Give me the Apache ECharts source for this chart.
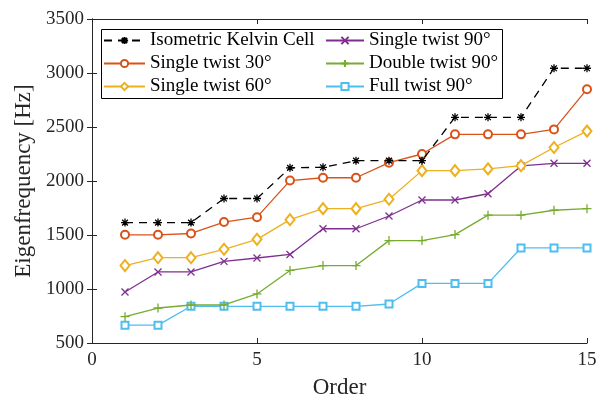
<!DOCTYPE html>
<html><head><meta charset="utf-8">
<script src="https://cdn.jsdelivr.net/npm/echarts@6/dist/echarts.min.js"></script>
<style>html,body{margin:0;padding:0;background:#fff}#c{width:607px;height:398px}</style>
</head><body><div id="c"></div>
<script>
var orders = [1,2,3,4,5,6,7,8,9,10,11,12,13,14,15];
var seriesNames = ['Isometric Kelvin Cell','Single twist 30°','Single twist 60°','Single twist 90°','Double twist 90°','Full twist 90°'];
var isometric = [1615,1615,1615,1838,1838,2122,2127,2188,2188,2188,2590,2590,2590,3044,3044];
var single30 = [1502,1502,1514,1620,1665,2004,2030,2030,2170,2250,2432,2432,2432,2478,2850];
var single60 = [1217,1290,1290,1368,1460,1642,1744,1744,1831,2096,2096,2112,2142,2310,2462];
var single90 = [972,1158,1158,1256,1287,1320,1558,1558,1676,1824,1824,1882,2140,2164,2164];
var double90 = [744,824,852,852,954,1172,1217,1217,1448,1448,1504,1684,1684,1729,1744];
var full90 = [665,665,840,840,840,840,840,840,861,1052,1052,1052,1380,1380,1380];
var yTicks = [500,1000,1500,2000,2500,3000,3500];
var xTicks = [0,5,10,15];

var colors = ['#000000','#D95319','#EDB120','#7E2F8E','#77AC30','#4DBEEE'];
var allData = [isometric,single30,single60,single90,double90,full90];
var symAst = 'path://M0 -5L0 5M-5 0L5 0M-3.6 -3.6L3.6 3.6M-3.6 3.6L3.6 -3.6';
var symX = 'path://M-4 -4L4 4M-4 4L4 -4';
var symPlus = 'path://M0 -5L0 5M-5 0L5 0';
var symbols = [symAst,'emptyCircle','emptyDiamond',symX,symPlus,'emptyRect'];
var symSizes = [8,8,[9,11],7,9,7];
var serif = '"Liberation Serif","DejaVu Serif",serif';

var series = allData.map(function(d,i){
  return {
    name: seriesNames[i], type:'line',
    data: orders.map(function(o,k){return [o,d[k]];}),
    symbol: symbols[i], symbolSize: symSizes[i], showAllSymbol:true,
    lineStyle:{color:colors[i], width:1.3, type: i===0?[8,6]:'solid'},
    itemStyle:{color:colors[i], borderColor:colors[i], borderWidth:1.3},
    emphasis:{disabled:true}, animation:false, z: 10-i
  };
});

var chart = echarts.init(document.getElementById('c'), null, {renderer:'canvas'});
var axisCol = '#262626';
function plain(v){ return String(v); }
var legendText = {fontFamily:serif, fontSize:19, color:'#000'};
chart.setOption({
  animation:false,
  color: colors,
  grid:{left:92, right:20, top:19, bottom:55, containLabel:false, outerBoundsMode:'none'},
  xAxis:[{
    type:'value', min:xTicks[0], max:xTicks[xTicks.length-1], interval:5,
    name:'Order', nameLocation:'middle', nameGap:33,
    nameTextStyle:{fontFamily:serif, fontSize:23, color:axisCol},
    axisLine:{onZero:false, lineStyle:{color:axisCol}},
    axisTick:{inside:true, length:5, lineStyle:{color:axisCol}},
    axisLabel:{fontFamily:serif, fontSize:19, color:axisCol, margin:8, formatter:plain},
    splitLine:{show:false}
  },{
    type:'value', min:0, max:15, interval:5, position:'top',
    axisLine:{lineStyle:{color:axisCol}},
    axisTick:{inside:true, length:5, lineStyle:{color:axisCol}},
    axisLabel:{show:false}, splitLine:{show:false}
  }],
  yAxis:[{
    type:'value', min:yTicks[0], max:yTicks[yTicks.length-1], interval:500,
    name:'Eigenfrequency [Hz]', nameLocation:'middle', nameGap:51,
    nameTextStyle:{fontFamily:serif, fontSize:23, color:axisCol},
    axisLine:{show:true, onZero:false, lineStyle:{color:axisCol}},
    axisTick:{show:true, inside:true, length:5, lineStyle:{color:axisCol}},
    axisLabel:{fontFamily:serif, fontSize:19, color:axisCol, margin:8, formatter:plain},
    splitLine:{show:false}
  },{
    type:'value', min:500, max:3500, interval:500, position:'right',
    axisLine:{show:true, lineStyle:{color:axisCol}},
    axisTick:{show:true, inside:true, length:5, lineStyle:{color:axisCol}},
    axisLabel:{show:false}, splitLine:{show:false}
  }],
  legend:[{
    data: seriesNames.slice(0,3), orient:'vertical', left:103, top:31,
    itemWidth:41, itemHeight:9, itemGap:4, padding:0, z:60,
    textStyle:legendText, selectedMode:false
  },{
    data: seriesNames.slice(3), orient:'vertical', left:325, top:31,
    itemWidth:38, itemHeight:9, itemGap:4, padding:0, z:60,
    textStyle:legendText, selectedMode:false
  }],
  graphic:[{
    type:'rect', shape:{x:101.5, y:29.5, width:401, height:69},
    style:{fill:'#fff', stroke:'#000', lineWidth:1}, z:-1, silent:true
  }],
  series: series
});
</script></body></html>
